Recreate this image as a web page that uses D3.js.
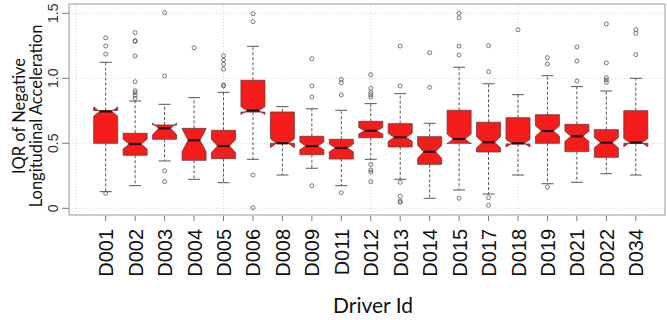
<!DOCTYPE html>
<html>
<head>
<meta charset="utf-8">
<title>IQR of Negative Longitudinal Acceleration by driver</title>
<script src="https://d3js.org/d3.v7.min.js"></script>
<style>
  body { margin: 0; background: #fff; }
  svg { display: block; }
</style>
</head>
<body>
<div id="chart"></div>
<script>
// driver ids along the x axis
const drivers = ["D001","D002","D003","D004","D005","D006","D008","D009","D011","D012",
                 "D013","D014","D015","D017","D018","D019","D021","D022","D034"];

// five number summaries
const whiskerLow  = [0.128,0.174,0.364,0.223,0.197,0.377,0.256,0.308,0.174,0.377,0.223,0.077,0.141,0.110,0.256,0.189,0.200,0.266,0.256];
const lowerQ      = [0.500,0.408,0.531,0.369,0.382,0.740,0.500,0.412,0.379,0.543,0.472,0.338,0.500,0.433,0.495,0.500,0.436,0.392,0.500];
const medians     = [0.745,0.495,0.615,0.523,0.479,0.752,0.500,0.479,0.464,0.597,0.546,0.435,0.533,0.508,0.500,0.595,0.554,0.505,0.505];
const upperQ      = [0.752,0.577,0.641,0.615,0.600,0.985,0.741,0.554,0.531,0.669,0.651,0.551,0.754,0.662,0.697,0.720,0.646,0.605,0.751];
const whiskerHigh = [1.123,0.825,0.800,0.851,0.892,1.246,0.782,0.766,0.754,0.805,0.882,0.654,1.085,0.958,0.874,1.020,0.936,0.902,1.000];

// notch ends
const notchLow  = [0.710,0.456,0.565,0.435,0.430,0.722,0.466,0.450,0.435,0.572,0.515,0.385,0.495,0.465,0.472,0.555,0.515,0.465,0.474];
const notchHigh = [0.780,0.532,0.655,0.612,0.530,0.782,0.535,0.510,0.495,0.622,0.577,0.485,0.571,0.551,0.530,0.635,0.593,0.545,0.536];

// outlying points per driver
const outliers = [
  [1.312,1.248,1.186,0.115],
  [1.351,1.289,1.285,1.172,0.974,0.905,0.890,0.869,0.846],
  [1.505,1.018,0.289,0.205],
  [1.235],
  [1.174,1.141,1.108,1.072,0.948,0.941],
  [1.497,1.436,0.256,0.005],
  [],
  [1.151,0.941,0.856,0.174],
  [0.992,0.966,0.872,0.120],
  [1.028,0.923,0.892,0.874,0.856,0.338,0.295,0.279,0.205],
  [1.248,0.941,0.200,0.092,0.056,0.046],
  [1.197,0.930],
  [1.500,1.466,1.248,1.179,0.077],
  [1.251,1.051,0.082,0.023],
  [1.374],
  [1.159,1.110,0.164],
  [1.241,1.133,0.979],
  [1.418,1.118,1.005,0.987,0.969],
  [1.374,1.346,1.182]
];

const yTicks = [0, 0.5, 1.0, 1.5];
const yTickLabels = ["0", "0.5", "1.0", "1.5"];
const xGrid = [0, 5, 10, 15];

const width = 667, height = 320;
const plot = { left: 69, right: 665, top: 4, bottom: 215 };

const svg = d3.select("#chart").append("svg")
  .attr("width", width)
  .attr("height", height);

const x = d3.scaleLinear().domain([1, 19]).range([105.7, 635.8]);
const y = d3.scaleLinear().domain([0, 1.5]).range([208.3, 13.3]);

const boxW = 24, inset = boxW / 4, capW = 12;

// grid
svg.append("g").selectAll("line.h")
  .data(yTicks).enter().append("line")
  .attr("x1", plot.left).attr("x2", plot.right)
  .attr("y1", d => y(d)).attr("y2", d => y(d))
  .attr("stroke", "#d4d4d4").attr("stroke-dasharray", "1,2");
svg.append("g").selectAll("line.v")
  .data(xGrid).enter().append("line")
  .attr("x1", d => x(d)).attr("x2", d => x(d))
  .attr("y1", plot.top).attr("y2", plot.bottom)
  .attr("stroke", "#d4d4d4").attr("stroke-dasharray", "1,2");

// frame
svg.append("rect")
  .attr("x", plot.left).attr("y", plot.top)
  .attr("width", plot.right - plot.left).attr("height", plot.bottom - plot.top)
  .attr("fill", "none").attr("stroke", "#999");

// y axis
const yAxis = svg.append("g");
yAxis.selectAll("line").data(yTicks).enter().append("line")
  .attr("x1", 62).attr("x2", plot.left)
  .attr("y1", d => y(d)).attr("y2", d => y(d))
  .attr("stroke", "#777");
yAxis.selectAll("text").data(yTicks).enter().append("text")
  .attr("transform", d => "translate(58," + y(d) + ") rotate(-90)")
  .attr("text-anchor", "middle")
  .attr("font-family", "Liberation Sans, Arial, sans-serif")
  .attr("font-size", 14)
  .attr("fill", "#333")
  .text((d, i) => yTickLabels[i]);

// x axis
const xAxis = svg.append("g");
xAxis.selectAll("line").data(drivers).enter().append("line")
  .attr("x1", (d, i) => x(i + 1)).attr("x2", (d, i) => x(i + 1))
  .attr("y1", plot.bottom + 1).attr("y2", plot.bottom + 6)
  .attr("stroke", "#777");
xAxis.selectAll("text").data(drivers).enter().append("text")
  .attr("transform", (d, i) => "translate(" + (x(i + 1) + 7.5) + ",229) rotate(-90)")
  .attr("text-anchor", "end")
  .attr("font-family", "Liberation Sans, Arial, sans-serif")
  .attr("font-size", 20)
  .attr("fill", "#111")
  .text(d => d);

// axis titles
svg.append("text")
  .attr("x", 373).attr("y", 313)
  .attr("text-anchor", "middle")
  .attr("font-family", "Lato, sans-serif")
  .attr("font-size", 21)
  .attr("fill", "#111")
  .text("Driver Id");
const yTitle = svg.append("text")
  .attr("transform", "translate(0,116) rotate(-90)")
  .attr("text-anchor", "middle")
  .attr("font-family", "Lato, sans-serif")
  .attr("font-size", 16.5)
  .attr("fill", "#111");
yTitle.append("tspan").attr("x", 0).attr("y", 25).text("IQR of Negative");
yTitle.append("tspan").attr("x", 0).attr("y", 42).text("Longitudinal Acceleration");

// boxes
const boxes = svg.append("g").selectAll("g")
  .data(drivers).enter().append("g");

boxes.append("line")
  .attr("x1", (d, i) => x(i + 1)).attr("x2", (d, i) => x(i + 1))
  .attr("y1", (d, i) => y(upperQ[i])).attr("y2", (d, i) => y(whiskerHigh[i]))
  .attr("stroke", "#555").attr("stroke-dasharray", "3,2");
boxes.append("line")
  .attr("x1", (d, i) => x(i + 1)).attr("x2", (d, i) => x(i + 1))
  .attr("y1", (d, i) => y(lowerQ[i])).attr("y2", (d, i) => y(whiskerLow[i]))
  .attr("stroke", "#555").attr("stroke-dasharray", "3,2");
boxes.append("line")
  .attr("x1", (d, i) => x(i + 1) - capW / 2).attr("x2", (d, i) => x(i + 1) + capW / 2)
  .attr("y1", (d, i) => y(whiskerHigh[i])).attr("y2", (d, i) => y(whiskerHigh[i]))
  .attr("stroke", "#555");
boxes.append("line")
  .attr("x1", (d, i) => x(i + 1) - capW / 2).attr("x2", (d, i) => x(i + 1) + capW / 2)
  .attr("y1", (d, i) => y(whiskerLow[i])).attr("y2", (d, i) => y(whiskerLow[i]))
  .attr("stroke", "#555");

// notched box, same outline order R uses
boxes.append("path")
  .attr("d", (d, i) => {
    const c = x(i + 1), xl = c - boxW / 2, xr = c + boxW / 2;
    const pts = [
      [xl, y(lowerQ[i])], [xl, y(notchLow[i])], [xl + inset, y(medians[i])],
      [xl, y(notchHigh[i])], [xl, y(upperQ[i])], [xr, y(upperQ[i])],
      [xr, y(notchHigh[i])], [xr - inset, y(medians[i])], [xr, y(notchLow[i])],
      [xr, y(lowerQ[i])]
    ];
    return "M" + pts.map(p => p.join(",")).join("L") + "Z";
  })
  .attr("fill", "#f51c1c")
  .attr("stroke", "#6a3a3a")
  .attr("stroke-width", 0.8)
  .attr("stroke-linejoin", "round");

boxes.append("line")
  .attr("x1", (d, i) => x(i + 1) - boxW / 2 + inset).attr("x2", (d, i) => x(i + 1) + boxW / 2 - inset)
  .attr("y1", (d, i) => y(medians[i])).attr("y2", (d, i) => y(medians[i]))
  .attr("stroke", "#2a1010").attr("stroke-width", 2.2);

boxes.selectAll("circle")
  .data((d, i) => outliers[i].map(v => ({ i: i, v: v })))
  .enter().append("circle")
  .attr("cx", o => x(o.i + 1))
  .attr("cy", o => y(o.v))
  .attr("r", 2)
  .attr("fill", "none")
  .attr("stroke", "#555")
  .attr("stroke-width", 0.8);
</script>
</body>
</html>
